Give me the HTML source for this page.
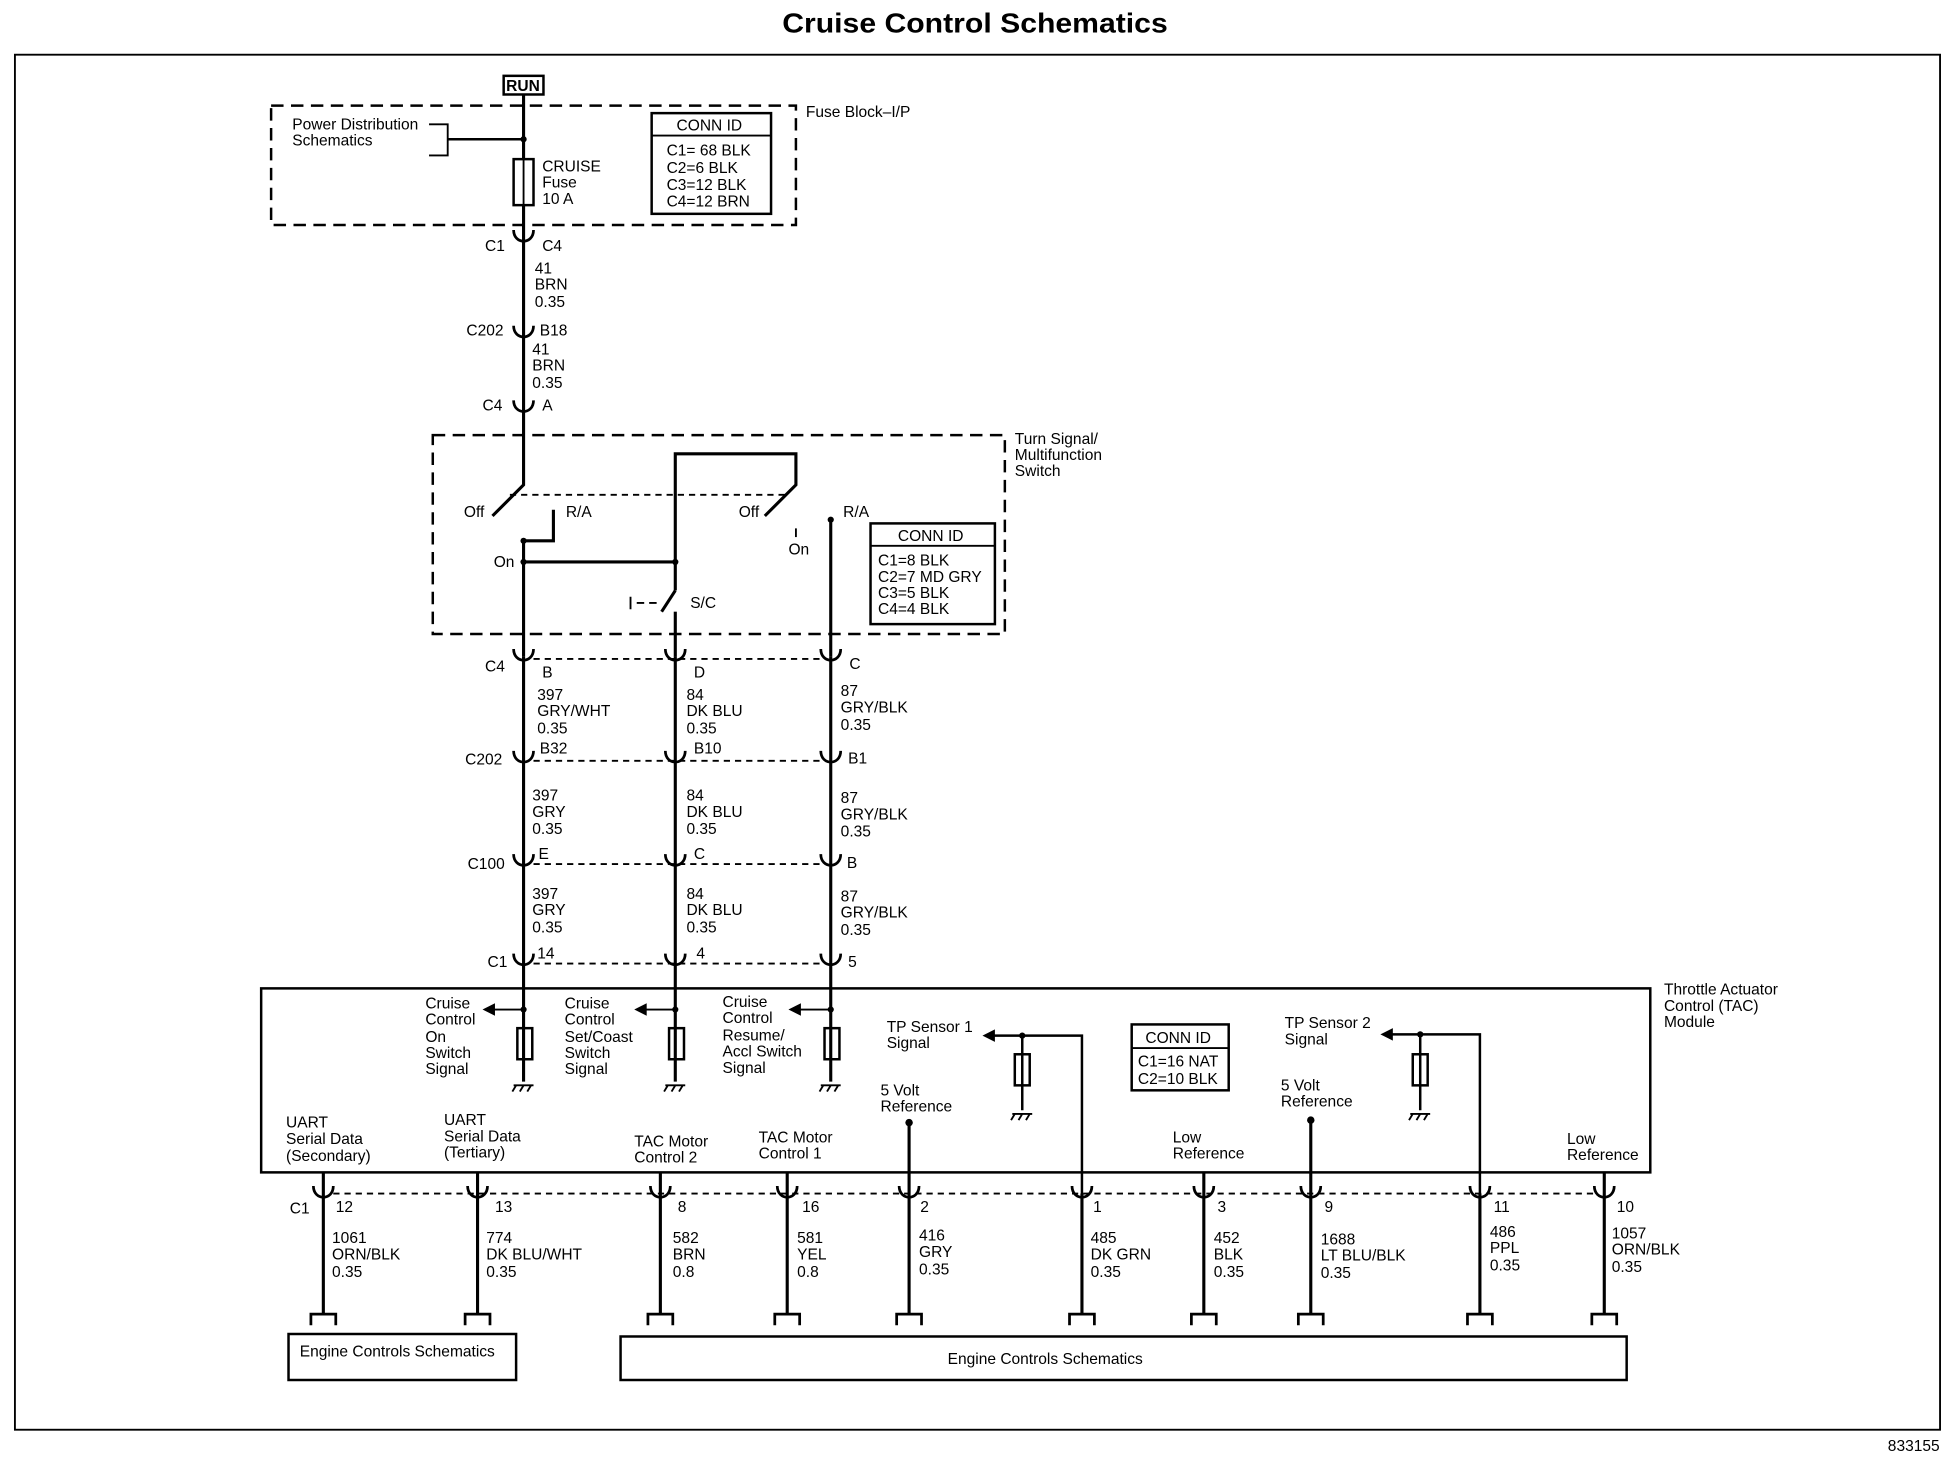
<!DOCTYPE html>
<html><head><meta charset="utf-8"><style>
html,body{margin:0;padding:0;background:#fff;}
svg{display:block;}
text{font-family:"Liberation Sans",Arial,sans-serif;font-size:12.5px;fill:#000;}
.t{font-size:22px;font-weight:bold;}
</style></head><body>
<svg width="1950" height="1472" viewBox="0 0 1568 1184" preserveAspectRatio="none" xmlns="http://www.w3.org/2000/svg">
<g stroke="#000" fill="none" stroke-width="1.5">
<rect x="12" y="44" width="1548" height="1106"/>
<rect x="218" y="85" width="422" height="96" stroke-dasharray="10,6" stroke-width="2"/>
<rect x="405" y="61" width="32" height="15" stroke-width="2"/>
<line x1="421" y1="76" x2="421" y2="128" stroke-width="2.5"/>
<line x1="421" y1="165" x2="421" y2="337" stroke-width="2.5"/>
<rect x="413" y="128" width="16" height="37" stroke-width="2"/>
<line x1="421" y1="128" x2="421" y2="165"/>
<path d="M345,100 H360 V125 H345"/>
<line x1="360" y1="112" x2="421" y2="112" stroke-width="2"/>
<rect x="524" y="91" width="96" height="81" stroke-width="2"/>
<line x1="524" y1="109" x2="620" y2="109"/>
<rect x="348" y="350" width="460" height="160" stroke-dasharray="10,6" stroke-width="2"/>
<path d="M421,337 V390 L396,415" stroke-width="2.5"/>
<line x1="410" y1="398" x2="632" y2="398" stroke-dasharray="5,4"/>
<path d="M445,410 V435 H421 V528" stroke-width="2.5"/>
<line x1="421" y1="452" x2="543" y2="452" stroke-width="2.5"/>
<path d="M543,475 V365 H640 V390 L615,415" stroke-width="2.5"/>
<path d="M543,475 L532,492" stroke-width="2.5"/>
<line x1="543" y1="492" x2="543" y2="528" stroke-width="2.5"/>
<path d="M507,480 V490 M512,485 H518 M522,485 H528" stroke-width="1.5"/>
<line x1="668" y1="420" x2="668" y2="528" stroke-width="2.5"/>
<line x1="640" y1="425" x2="640" y2="432"/>
<rect x="700" y="421" width="100" height="81" stroke-width="2"/>
<line x1="700" y1="439" x2="800" y2="439"/>
<line x1="421" y1="528" x2="421" y2="870" stroke-width="2.5"/>
<line x1="543" y1="528" x2="543" y2="870" stroke-width="2.5"/>
<line x1="668" y1="528" x2="668" y2="870" stroke-width="2.5"/>
<g stroke-dasharray="5,4">
<line x1="429" y1="530" x2="660" y2="530"/>
<line x1="429" y1="612" x2="660" y2="612"/>
<line x1="429" y1="695" x2="660" y2="695"/>
<line x1="429" y1="775" x2="660" y2="775"/>
<line x1="268" y1="960" x2="1282" y2="960"/>
</g>
<g stroke-width="2.2">
<path d="M413,185 C413,197 429,197 429,185"/>
<path d="M413,262 C413,274 429,274 429,262"/>
<path d="M413,322 C413,334 429,334 429,322"/>
<path d="M413,522 C413,534 429,534 429,522"/><path d="M535,522 C535,534 551,534 551,522"/><path d="M660,522 C660,534 676,534 676,522"/>
<path d="M413,604 C413,616 429,616 429,604"/><path d="M535,604 C535,616 551,616 551,604"/><path d="M660,604 C660,616 676,616 676,604"/>
<path d="M413,687 C413,699 429,699 429,687"/><path d="M535,687 C535,699 551,699 551,687"/><path d="M660,687 C660,699 676,699 676,687"/>
<path d="M413,767 C413,779 429,779 429,767"/><path d="M535,767 C535,779 551,779 551,767"/><path d="M660,767 C660,779 676,779 676,767"/>
</g>
<rect x="210" y="795" width="1117" height="148" stroke-width="2"/>
<rect x="416" y="827" width="12" height="25" stroke-width="2"/>
<rect x="538" y="827" width="12" height="25" stroke-width="2"/>
<rect x="663" y="827" width="12" height="25" stroke-width="2"/>
<line x1="421" y1="812" x2="396" y2="812"/><line x1="543" y1="812" x2="518" y2="812"/><line x1="668" y1="812" x2="642" y2="812"/>
<path d="M870,960 V833 H798" stroke-width="2"/>
<path d="M1190,960 V832 H1118" stroke-width="2"/>
<line x1="822" y1="833" x2="822" y2="893" stroke-width="2"/>
<rect x="816" y="848" width="12" height="25" stroke-width="2"/>
<line x1="1142" y1="832" x2="1142" y2="893" stroke-width="2"/>
<rect x="1136" y="848" width="12" height="25" stroke-width="2"/>
<line x1="731" y1="903" x2="731" y2="1058" stroke-width="2.5"/>
<line x1="1054" y1="901" x2="1054" y2="1058" stroke-width="2.5"/>
<line x1="968" y1="943" x2="968" y2="1058" stroke-width="2.5"/>
<line x1="1290" y1="943" x2="1290" y2="1058" stroke-width="2.5"/>
<line x1="260" y1="943" x2="260" y2="1058" stroke-width="2.5"/>
<line x1="384" y1="943" x2="384" y2="1058" stroke-width="2.5"/>
<line x1="531" y1="943" x2="531" y2="1058" stroke-width="2.5"/>
<line x1="633" y1="943" x2="633" y2="1058" stroke-width="2.5"/>
<line x1="870" y1="960" x2="870" y2="1058" stroke-width="2.5"/>
<line x1="1190" y1="960" x2="1190" y2="1058" stroke-width="2.5"/>
<rect x="910" y="824" width="78" height="53" stroke-width="2"/>
<line x1="910" y1="843" x2="988" y2="843"/>
<g stroke-width="1.5">
<path d="M413,873 H429 M415,873 l-3,5 M421,873 l-3,5 M427,873 l-3,5"/>
<path d="M535,873 H551 M537,873 l-3,5 M543,873 l-3,5 M549,873 l-3,5"/>
<path d="M660,873 H676 M662,873 l-3,5 M668,873 l-3,5 M674,873 l-3,5"/>
<path d="M814,896 H830 M816,896 l-3,5 M822,896 l-3,5 M828,896 l-3,5"/>
<path d="M1134,896 H1150 M1136,896 l-3,5 M1142,896 l-3,5 M1148,896 l-3,5"/>
</g>
<g stroke-width="2.2">
<path d="M252,954 C252,966 268,966 268,954"/><path d="M376,954 C376,966 392,966 392,954"/><path d="M523,954 C523,966 539,966 539,954"/><path d="M625,954 C625,966 641,966 641,954"/><path d="M723,954 C723,966 739,966 739,954"/><path d="M862,954 C862,966 878,966 878,954"/><path d="M960,954 C960,966 976,966 976,954"/><path d="M1046,954 C1046,966 1062,966 1062,954"/><path d="M1182,954 C1182,966 1198,966 1198,954"/><path d="M1282,954 C1282,966 1298,966 1298,954"/>
<path d="M250,1066 V1057 H270 V1066"/><path d="M374,1066 V1057 H394 V1066"/><path d="M521,1066 V1057 H541 V1066"/><path d="M623,1066 V1057 H643 V1066"/><path d="M721,1066 V1057 H741 V1066"/><path d="M860,1066 V1057 H880 V1066"/><path d="M958,1066 V1057 H978 V1066"/><path d="M1044,1066 V1057 H1064 V1066"/><path d="M1180,1066 V1057 H1200 V1066"/><path d="M1280,1066 V1057 H1300 V1066"/>
</g>
<rect x="232" y="1073" width="183" height="37" stroke-width="2"/>
<rect x="499" y="1075" width="809" height="35" stroke-width="2"/>
</g>
<g fill="#000">
<circle cx="421" cy="112" r="2.5"/><circle cx="421" cy="435" r="2.5"/><circle cx="421" cy="452" r="2.5"/><circle cx="543" cy="452" r="2.5"/><circle cx="668" cy="418" r="2.5"/>
<circle cx="421" cy="812" r="2.5"/><circle cx="543" cy="812" r="2.5"/><circle cx="668" cy="812" r="2.5"/><circle cx="822" cy="833" r="2.5"/><circle cx="1142" cy="832" r="2.5"/><circle cx="731" cy="903" r="3"/><circle cx="1054" cy="901" r="3"/>
<path d="M388,812 l10,-5 v10z"/><path d="M510,812 l10,-5 v10z"/><path d="M634,812 l10,-5 v10z"/><path d="M790,833 l10,-5 v10z"/><path d="M1110,832 l10,-5 v10z"/>
</g>
<text class="t" x="784" y="26" text-anchor="middle" textLength="310" lengthAdjust="spacingAndGlyphs">Cruise Control Schematics</text>
<text x="1518" y="1167" font-size="11">833155</text>
<text x="407" y="73" font-size="12" font-weight="bold">RUN</text>
<text x="648" y="94">Fuse Block–I/P</text>
<text x="235" y="104">Power Distribution</text><text x="235" y="117">Schematics</text>
<text x="436" y="138">CRUISE</text><text x="436" y="151">Fuse</text><text x="436" y="164">10 A</text>
<text x="544" y="105">CONN ID</text>
<text x="536" y="125">C1= 68 BLK</text><text x="536" y="139">C2=6 BLK</text><text x="536" y="153">C3=12 BLK</text><text x="536" y="166">C4=12 BRN</text>
<text x="390" y="202">C1</text><text x="436" y="202">C4</text>
<text x="430" y="220">41</text><text x="430" y="233">BRN</text><text x="430" y="247">0.35</text>
<text x="375" y="270">C202</text><text x="434" y="270">B18</text>
<text x="428" y="285">41</text><text x="428" y="298">BRN</text><text x="428" y="312">0.35</text>
<text x="388" y="330">C4</text><text x="436" y="330">A</text>
<text x="816" y="357">Turn Signal/</text><text x="816" y="370">Multifunction</text><text x="816" y="383">Switch</text>
<text x="373" y="416">Off</text><text x="455" y="416">R/A</text><text x="594" y="416">Off</text><text x="678" y="416">R/A</text>
<text x="397" y="456">On</text><text x="634" y="446">On</text><text x="555" y="489">S/C</text>
<text x="722" y="435">CONN ID</text>
<text x="706" y="455">C1=8 BLK</text><text x="706" y="468">C2=7 MD GRY</text><text x="706" y="481">C3=5 BLK</text><text x="706" y="494">C4=4 BLK</text>
<text x="390" y="540">C4</text><text x="436" y="545">B</text><text x="558" y="545">D</text><text x="683" y="538">C</text>
<text x="432" y="563">397</text><text x="432" y="576">GRY/WHT</text><text x="432" y="590">0.35</text>
<text x="552" y="563">84</text><text x="552" y="576">DK BLU</text><text x="552" y="590">0.35</text>
<text x="676" y="560">87</text><text x="676" y="573">GRY/BLK</text><text x="676" y="587">0.35</text>
<text x="374" y="615">C202</text><text x="434" y="606">B32</text><text x="558" y="606">B10</text><text x="682" y="614">B1</text>
<text x="428" y="644">397</text><text x="428" y="657">GRY</text><text x="428" y="671">0.35</text>
<text x="552" y="644">84</text><text x="552" y="657">DK BLU</text><text x="552" y="671">0.35</text>
<text x="676" y="646">87</text><text x="676" y="659">GRY/BLK</text><text x="676" y="673">0.35</text>
<text x="376" y="699">C100</text><text x="433" y="691">E</text><text x="558" y="691">C</text><text x="681" y="698">B</text>
<text x="428" y="723">397</text><text x="428" y="736">GRY</text><text x="428" y="750">0.35</text>
<text x="552" y="723">84</text><text x="552" y="736">DK BLU</text><text x="552" y="750">0.35</text>
<text x="676" y="725">87</text><text x="676" y="738">GRY/BLK</text><text x="676" y="752">0.35</text>
<text x="392" y="778">C1</text><text x="432" y="771">14</text><text x="560" y="771">4</text><text x="682" y="778">5</text>
<text x="1338" y="800">Throttle Actuator</text><text x="1338" y="813">Control (TAC)</text><text x="1338" y="826">Module</text>
<text x="342" y="811">Cruise</text><text x="342" y="824">Control</text><text x="342" y="838">On</text><text x="342" y="851">Switch</text><text x="342" y="864">Signal</text>
<text x="454" y="811">Cruise</text><text x="454" y="824">Control</text><text x="454" y="838">Set/Coast</text><text x="454" y="851">Switch</text><text x="454" y="864">Signal</text>
<text x="581" y="810">Cruise</text><text x="581" y="823">Control</text><text x="581" y="837">Resume/</text><text x="581" y="850">Accl Switch</text><text x="581" y="863">Signal</text>
<text x="713" y="830">TP Sensor 1</text><text x="713" y="843">Signal</text>
<text x="1033" y="827">TP Sensor 2</text><text x="1033" y="840">Signal</text>
<text x="708" y="881">5 Volt</text><text x="708" y="894">Reference</text>
<text x="1030" y="877">5 Volt</text><text x="1030" y="890">Reference</text>
<text x="921" y="839">CONN ID</text><text x="915" y="858">C1=16 NAT</text><text x="915" y="872">C2=10 BLK</text>
<text x="943" y="919">Low</text><text x="943" y="932">Reference</text>
<text x="1260" y="920">Low</text><text x="1260" y="933">Reference</text>
<text x="230" y="907">UART</text><text x="230" y="920">Serial Data</text><text x="230" y="934">(Secondary)</text>
<text x="357" y="905">UART</text><text x="357" y="918">Serial Data</text><text x="357" y="931">(Tertiary)</text>
<text x="510" y="922">TAC Motor</text><text x="510" y="935">Control 2</text>
<text x="610" y="919">TAC Motor</text><text x="610" y="932">Control 1</text>
<text x="233" y="976">C1</text>
<text x="270" y="975">12</text><text x="398" y="975">13</text><text x="545" y="975">8</text><text x="645" y="975">16</text><text x="740" y="975">2</text><text x="879" y="975">1</text><text x="979" y="975">3</text><text x="1065" y="975">9</text><text x="1201" y="975">11</text><text x="1300" y="975">10</text>
<text x="267" y="1000">1061</text><text x="267" y="1013">ORN/BLK</text><text x="267" y="1027">0.35</text>
<text x="391" y="1000">774</text><text x="391" y="1013">DK BLU/WHT</text><text x="391" y="1027">0.35</text>
<text x="541" y="1000">582</text><text x="541" y="1013">BRN</text><text x="541" y="1027">0.8</text>
<text x="641" y="1000">581</text><text x="641" y="1013">YEL</text><text x="641" y="1027">0.8</text>
<text x="739" y="998">416</text><text x="739" y="1011">GRY</text><text x="739" y="1025">0.35</text>
<text x="877" y="1000">485</text><text x="877" y="1013">DK GRN</text><text x="877" y="1027">0.35</text>
<text x="976" y="1000">452</text><text x="976" y="1013">BLK</text><text x="976" y="1027">0.35</text>
<text x="1062" y="1001">1688</text><text x="1062" y="1014">LT BLU/BLK</text><text x="1062" y="1028">0.35</text>
<text x="1198" y="995">486</text><text x="1198" y="1008">PPL</text><text x="1198" y="1022">0.35</text>
<text x="1296" y="996">1057</text><text x="1296" y="1009">ORN/BLK</text><text x="1296" y="1023">0.35</text>
<text x="241" y="1091">Engine Controls Schematics</text>
<text x="762" y="1097">Engine Controls Schematics</text>
</svg>
</body></html>
